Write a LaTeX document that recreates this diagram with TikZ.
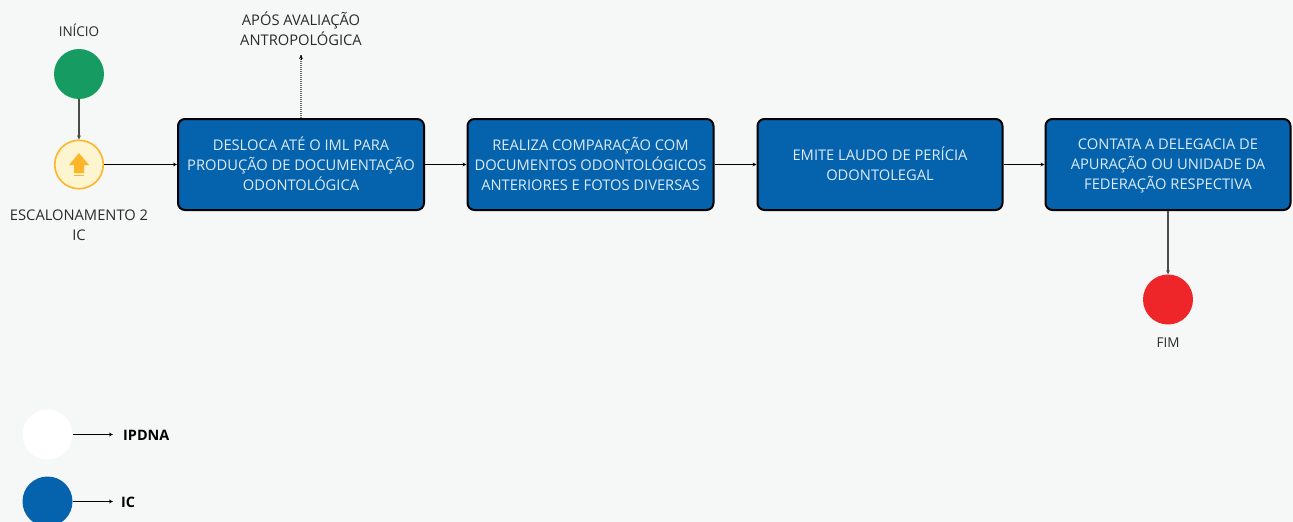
\documentclass[tikz,border=0pt]{standalone}
\usepackage{fontspec}
\setmainfont{Open Sans}
\usetikzlibrary{arrows.meta}
\definecolor{bg}{HTML}{F6F7F7}
\definecolor{boxblue}{HTML}{0563AE}
\definecolor{boxtext}{HTML}{DCEBF7}
\definecolor{startgreen}{HTML}{169B62}
\definecolor{endred}{HTML}{EF2629}
\definecolor{escfill}{HTML}{FDF5CF}
\definecolor{escline}{HTML}{FDB52A}
\definecolor{labeltext}{HTML}{2B2B2B}
\newcommand\topA{\rule{0pt}{18pt}}
\newcommand\topB{\rule{0pt}{16pt}}
\tikzset{
  x=1pt,y=-1pt,
  stepbox/.style={draw=black,line width=2pt,fill=boxblue,rounded corners=7pt,minimum height=91pt,text=boxtext,align=center,font=\fontsize{14.7}{20}\selectfont,inner sep=0pt},
  dot/.style={circle,minimum size=50pt,inner sep=0pt,draw=none},
  lbl/.style={text=labeltext,align=center,font=\fontsize{14.7}{20}\selectfont,inner sep=0pt},
  lblsmall/.style={text=labeltext,align=center,font=\fontsize{13.5}{20}\selectfont,inner sep=0pt},
  keylbl/.style={text=black,anchor=west,font=\fontsize{14.4}{20}\selectfont\bfseries,inner sep=0pt},
  conn/.style={draw=black,line width=1pt,-{Stealth[length=4pt,width=3.8pt]}},
  connv/.style={draw=black!70,line width=1.5pt,-{Stealth[length=4pt,width=3.8pt]}},
}
\begin{document}
\begin{tikzpicture}
\useasboundingbox (0,0) rectangle (1293,522);
\fill[bg] (0,0) rectangle (1293,522);
\node[dot,fill=startgreen] (start) at (79,74) {};
\node[dot,fill=escfill,draw=escline,line width=1.6pt,minimum size=48.5pt] (esc) at (79,164.5) {};
\fill[escline] (79,153) -- (89,165) -- (84,165) -- (84,173) -- (74,173) -- (74,165) -- (69,165) -- cycle;
\fill[escline] (74,174.5) rectangle (84,176);
\node[dot,fill=endred] (end) at (1168,299.5) {};
\node[dot,fill=white] (kipdna) at (47.5,434.5) {};
\node[dot,fill=boxblue] (kic) at (47.5,501.5) {};
\node[stepbox,minimum width=246pt] (a) at (301,164.5) {\topA DESLOCA ATÉ O IML PARA\\PRODUÇÃO DE DOCUMENTAÇÃO\\ODONTOLÓGICA\strut};
\node[stepbox,minimum width=246pt] (b) at (590.5,164.5) {\topA REALIZA COMPARAÇÃO COM\\DOCUMENTOS ODONTOLÓGICOS\\ANTERIORES E FOTOS DIVERSAS\strut};
\node[stepbox,minimum width=245pt] (c) at (880,164.5) {\topA EMITE LAUDO DE PERÍCIA\\ODONTOLEGAL\strut};
\node[stepbox,minimum width=245pt] (d) at (1168,164.5) {\topB CONTATA A DELEGACIA DE\\APURAÇÃO OU UNIDADE DA\\FEDERAÇÃO RESPECTIVA\strut};
\node[lblsmall] (tstart) at (79,30) {INÍCIO};
\node[lbl] (tesc) at (79,225) {\topB ESCALONAMENTO 2\\IC\strut};
\node[lbl] (tapos) at (301,30) {\topB APÓS AVALIAÇÃO\\ANTROPOLÓGICA\strut};
\node[lblsmall] (tend) at (1168,343) {FIM};
\node[keylbl] (tipdna) at (123,435) {IPDNA};
\node[keylbl] (tic) at (121,502) {IC};
\coordinate (apostip) at (301,55);
\coordinate (ipdnatip) at (113,434.5);
\coordinate (ictip) at (113,501.5);
\draw[connv] (start) -- (esc);
\draw[conn] (esc) -- (a);
\draw[conn] (a) -- (b);
\draw[conn] (b) -- (c);
\draw[conn] (c) -- (d);
\draw[connv] (d) -- (end);
\draw[draw=black!60,line width=1.4pt,dash pattern=on 1pt off 1pt] (a) -- (apostip);
\draw[conn,-{Stealth[length=4pt,width=3.8pt]}] (301,60) -- (apostip);
\draw[conn] (kipdna) -- (ipdnatip);
\draw[conn] (kic) -- (ictip);
\end{tikzpicture}
\end{document}
